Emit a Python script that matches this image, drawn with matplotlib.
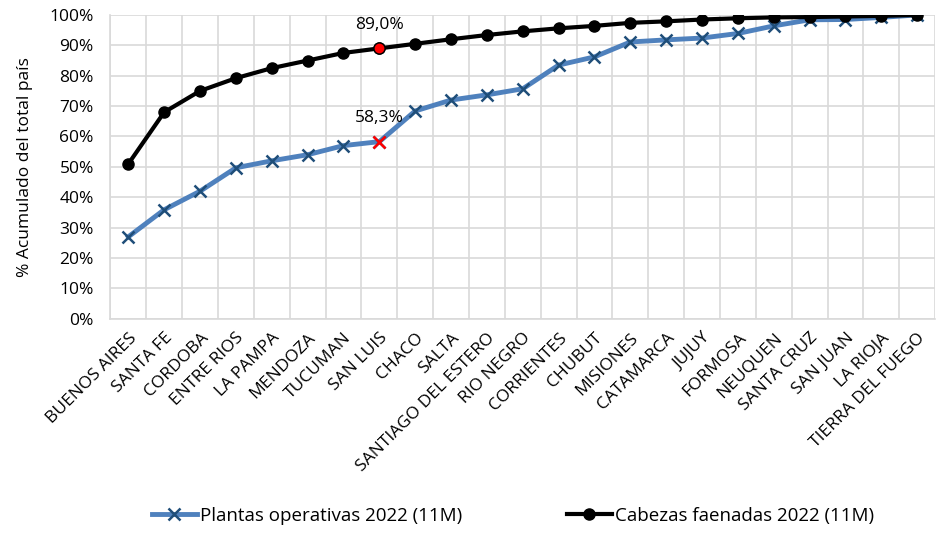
import matplotlib.pyplot as plt
from matplotlib.ticker import FuncFormatter, MultipleLocator
import numpy as np

plt.rcParams['font.family'] = ['Open Sans', 'DejaVu Sans']

provincias = ['BUENOS AIRES', 'SANTA FE', 'CORDOBA', 'ENTRE RIOS', 'LA PAMPA',
              'MENDOZA', 'TUCUMAN', 'SAN LUIS', 'CHACO', 'SALTA',
              'SANTIAGO DEL ESTERO', 'RIO NEGRO', 'CORRIENTES', 'CHUBUT',
              'MISIONES', 'CATAMARCA', 'JUJUY', 'FORMOSA', 'NEUQUEN',
              'SANTA CRUZ', 'SAN JUAN', 'LA RIOJA', 'TIERRA DEL FUEGO']

plantas = [27.0, 35.9, 42.0, 49.7, 52.0, 54.0, 57.0, 58.3, 68.4, 72.0,
           73.7, 75.7, 83.5, 86.2, 91.1, 91.8, 92.4, 93.9, 96.4, 98.4,
           98.5, 99.2, 100.0]
cabezas = [51.0, 68.0, 75.0, 79.2, 82.5, 85.0, 87.5, 89.0, 90.5, 92.0,
           93.4, 94.6, 95.6, 96.4, 97.4, 97.9, 98.5, 98.9, 99.2, 99.3,
           99.5, 99.7, 100.0]
destacado = 7  # SAN LUIS

n = len(provincias)
x = np.arange(n)

fig = plt.figure(figsize=(9.36, 5.34), dpi=100)
ax = fig.add_axes([0.118, 0.403, 0.881, 0.569])

ax.plot(x, plantas, color='#4f81bd', lw=3.5, marker='x', ms=8, mew=1.8,
        mec='#1f4e79', label='Plantas operativas 2022 (11M)', zorder=3)
ax.plot(x, cabezas, color='black', lw=3, marker='o', ms=8,
        label='Cabezas faenadas 2022 (11M)', zorder=4)

ax.plot(x[destacado], plantas[destacado], 'x', color='red', ms=8, mew=1.8, zorder=5)
ax.plot(x[destacado], cabezas[destacado], 'o', color='red', mec='black', ms=8, zorder=5)
ax.annotate('89,0%', (x[destacado], cabezas[destacado]), xytext=(0, 11),
            textcoords='offset points', ha='center', va='bottom', fontsize=12.5)
ax.annotate('58,3%', (x[destacado], plantas[destacado]), xytext=(0, 11),
            textcoords='offset points', ha='center', va='bottom', fontsize=12.5)

ax.set_xlim(-0.5, n - 0.5)
ax.set_ylim(0, 100)
ax.yaxis.set_major_locator(MultipleLocator(10))
ax.yaxis.set_major_formatter(FuncFormatter(lambda v, p: f'{v:.0f}%'))
ax.set_xticks(x)
ax.set_xticklabels(provincias, rotation=45, ha='right', rotation_mode='anchor', fontsize=12.5)
ax.set_xticks(np.arange(-0.5, n, 1), minor=True)
ax.tick_params(axis='x', which='both', length=0, pad=8)
ax.tick_params(axis='y', length=0, labelsize=12.5, pad=12)
ax.grid(True, which='major', axis='y', color='#d9d9d9', lw=1.2)
ax.grid(True, which='minor', axis='x', color='#d9d9d9', lw=1.2)
ax.set_axisbelow(True)
for s in ['top', 'right']:
    ax.spines[s].set_visible(False)
for s in ['left', 'bottom']:
    ax.spines[s].set_color('#d9d9d9')
    ax.spines[s].set_linewidth(1.2)
ax.set_ylabel('% Acumulado del total país', fontsize=12.5, labelpad=12)

fig.legend(loc='lower center', bbox_to_anchor=(0.548, -0.014), ncol=2, frameon=False,
           fontsize=13.5, columnspacing=5.6, handlelength=2.4, handletextpad=0.15)

fig.savefig('out.png', dpi=100)
